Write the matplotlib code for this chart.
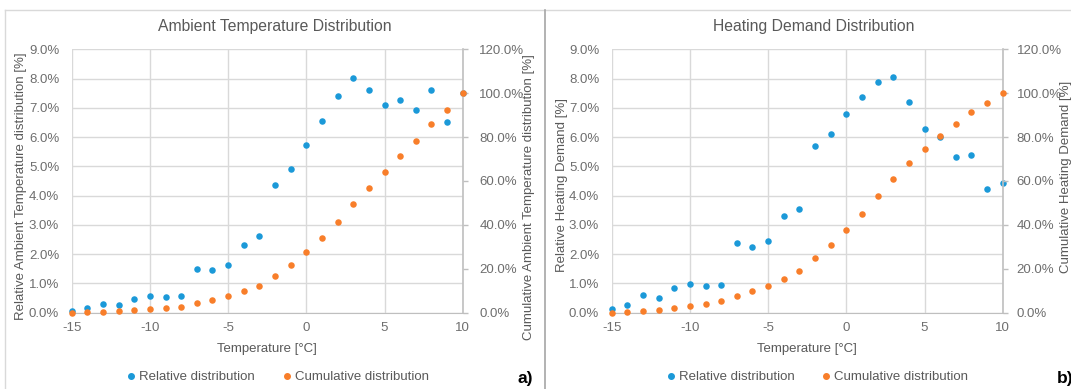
import numpy as np
import matplotlib
matplotlib.use('Agg')
import matplotlib.pyplot as plt
from matplotlib.ticker import FuncFormatter, MultipleLocator
from matplotlib.lines import Line2D

# temperature bins [°C]
temps = list(range(-15, 11))

# a) ambient temperature distribution [%]
amb_rel = [0.06, 0.15, 0.31, 0.26, 0.46, 0.56, 0.55, 0.58, 1.50, 1.46, 1.64, 2.31, 2.62,
           4.37, 4.92, 5.73, 6.55, 7.41, 8.02, 7.61, 7.10, 7.27, 6.94, 7.61, 6.51, 7.50]
amb_cum = [0.0, 0.1, 0.3, 0.6, 1.2, 1.8, 2.3, 2.7, 4.3, 5.8, 7.4, 9.7, 12.3,
           16.7, 21.7, 27.5, 33.9, 41.3, 49.4, 56.9, 64.1, 71.4, 78.4, 86.0, 92.5, 100.0]

# b) heating demand distribution [%]
heat_rel = [0.13, 0.28, 0.60, 0.50, 0.83, 0.99, 0.92, 0.96, 2.39, 2.24, 2.44, 3.29, 3.55,
            5.68, 6.10, 6.79, 7.36, 7.89, 8.06, 7.19, 6.29, 6.01, 5.32, 5.39, 4.23, 4.43]
heat_cum = [0.0, 0.15, 0.9, 1.4, 2.1, 3.2, 4.1, 5.2, 7.4, 9.9, 12.3, 15.5, 19.1,
            24.8, 31.0, 37.7, 45.1, 53.0, 61.1, 68.4, 74.6, 80.4, 86.0, 91.3, 95.5, 100.0]

plt.rcParams['font.family'] = ['Liberation Sans', 'DejaVu Sans']

BLUE = '#1b99d8'
ORANGE = '#f87e2a'
GREY = '#595959'
TICK = '#6e6e6e'
GRID = '#d9d9d9'
AXIS = '#bfbfbf'

W, H = 1071, 389
fig = plt.figure(figsize=(W / 100, H / 100), dpi=100)


def px(x0, y0, x1, y1):
    # pixel box (top-left origin) -> figure fraction rect
    return [x0 / W, (H - y1) / H, (x1 - x0) / W, (y1 - y0) / H]


def panel(rect, rel, cum, title, ylab, ylab2, chart_x0, chart_x1, r_pad, lab_pos):
    ax = fig.add_axes(px(*rect))
    ax2 = ax.twinx()

    ax.scatter(temps, rel, s=22, color=BLUE, zorder=3, clip_on=False, linewidths=0,
               label='Relative distribution')
    ax2.scatter(temps, cum, s=22, color=ORANGE, zorder=3, clip_on=False, linewidths=0,
                label='Cumulative distribution')

    ax.set_xlim(-15, 10)
    ax.set_ylim(0, 9)
    ax2.set_ylim(0, 120)
    ax.xaxis.set_major_locator(MultipleLocator(5))
    ax.yaxis.set_major_locator(MultipleLocator(1))
    ax2.yaxis.set_major_locator(MultipleLocator(20))
    ax.yaxis.set_major_formatter(FuncFormatter(lambda v, p: f'{v:.1f}%'))
    ax2.yaxis.set_major_formatter(FuncFormatter(lambda v, p: f'{v:.1f}%'))
    ax.xaxis.set_major_formatter(FuncFormatter(lambda v, p: f'{v:.0f}'.replace('-0', '0')))

    ax.grid(True, color=GRID, linewidth=1.0, zorder=0)
    ax.set_axisbelow(True)
    for s in ['top', 'right', 'left']:
        ax.spines[s].set_visible(False)
    ax.spines['bottom'].set_color(AXIS)
    for s in ['top', 'left', 'bottom']:
        ax2.spines[s].set_visible(False)
    ax2.spines['right'].set_color(AXIS)
    ax2.spines['right'].set_linewidth(1.2)

    ax.tick_params(axis='both', length=0, labelsize=9.5, labelcolor=TICK)
    ax.tick_params(axis='y', pad=9)
    ax.tick_params(axis='x', pad=7)
    ax2.tick_params(axis='y', length=3.5, width=1, color=AXIS, labelsize=9.5,
                    labelcolor=TICK, pad=r_pad)

    ax.set_xlabel('Temperature [°C]', fontsize=9.5, color=GREY)
    ax.xaxis.set_label_coords(0.5, -0.139)
    ax.xaxis.label.set_verticalalignment('center')
    ax.set_ylabel(ylab, fontsize=9.5, color=GREY)
    ax.yaxis.set_label_coords(lab_pos[0], lab_pos[1])
    ax.yaxis.label.set_verticalalignment('center')
    ax2.set_ylabel(ylab2, fontsize=9.5, color=GREY, rotation=90)
    ax2.yaxis.set_label_coords(lab_pos[2], lab_pos[3])
    ax2.yaxis.label.set_verticalalignment('center')

    cx = (chart_x0 + chart_x1) / 2
    fig.text(cx / W, (H - 27) / H, title, ha='center', va='center', fontsize=11.3, color=GREY)

    handles = [Line2D([], [], marker='o', linestyle='none', color=BLUE, markersize=4,
                      label='Relative distribution'),
               Line2D([], [], marker='o', linestyle='none', color=ORANGE, markersize=4,
                      label='Cumulative distribution')]
    fig.legend(handles=handles, loc='center', bbox_to_anchor=(cx / W + 0.002, (H - 377) / H),
               ncol=2, frameon=False, fontsize=9.5, labelcolor=GREY, handletextpad=0.1,
               columnspacing=1.9, handlelength=1.0, borderaxespad=0)
    return ax


panel((71.7, 49.3, 462.7, 312.7), amb_rel, amb_cum, 'Ambient Temperature Distribution',
      'Relative Ambient Temperature distribution [%]',
      'Cumulative Ambient Temperature distribution [%]', 5, 544, 8.5,
      (-0.13, 0.48, 1.17, 0.44))
panel((611.7, 49.3, 1002.7, 312.7), heat_rel, heat_cum, 'Heating Demand Distribution',
      'Relative Heating Demand [%]', 'Cumulative Heating Demand [%]', 544, 1084, 6.5,
      (-0.127, 0.483, 1.162, 0.515))

# chart area borders
fig.add_artist(Line2D([5 / W, 5 / W], [0, (H - 10) / H], color='#d9d9d9', lw=1.0))
fig.add_artist(Line2D([5 / W, 1], [(H - 10) / H, (H - 10) / H], color='#d9d9d9', lw=1.0))
fig.add_artist(Line2D([544.5 / W, 544.5 / W], [0, (H - 10) / H], color='#a6a6a6', lw=1.2))

fig.text(518 / W, (H - 379) / H, 'a)', ha='left', va='center', fontsize=12.5,
         fontweight='bold', color='black')
fig.text(1057 / W, (H - 379) / H, 'b)', ha='left', va='center', fontsize=12.5,
         fontweight='bold', color='black')

fig.savefig('out.png', dpi=100)
